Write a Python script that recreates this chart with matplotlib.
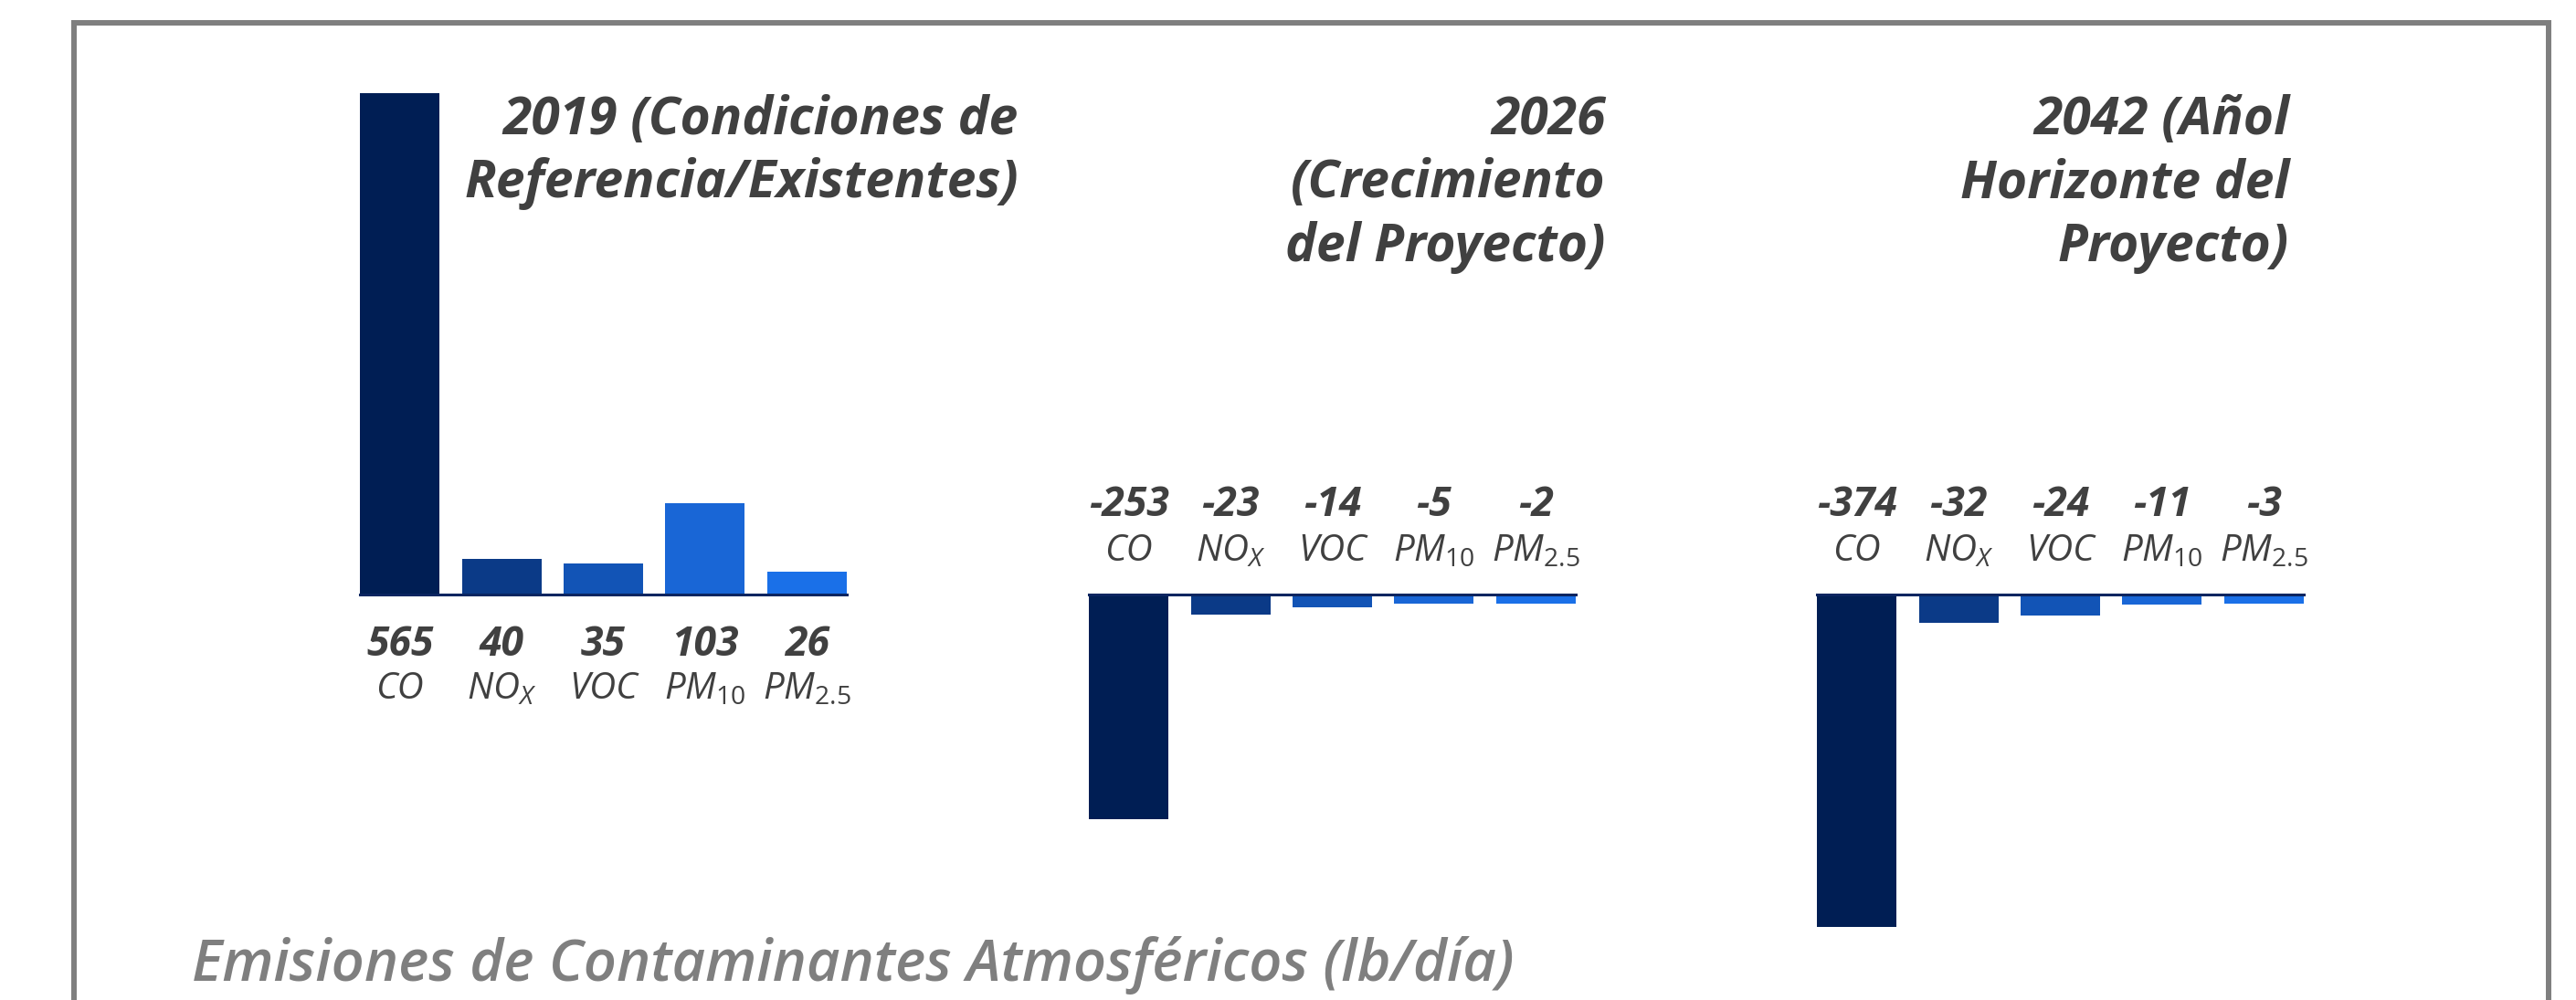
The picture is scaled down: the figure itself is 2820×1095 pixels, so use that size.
import matplotlib
matplotlib.use('Agg')
import matplotlib.pyplot as plt
from matplotlib import font_manager
from matplotlib.patches import Rectangle

# ---------------- data ----------------
pollutants = ['CO', 'NO$_X$', 'VOC', 'PM$_{10}$', 'PM$_{2.5}$']
values_2019 = [565, 40, 35, 103, 26]
values_2026 = [-253, -23, -14, -5, -2]
values_2042 = [-374, -32, -24, -11, -3]
titles = ['2019 (Condiciones de\nReferencia/Existentes)',
          '2026\n(Crecimiento\ndel Proyecto)',
          '2042 (Añol\nHorizonte del\nProyecto)']
footer = 'Emisiones de Contaminantes Atmosféricos (lb/día)'
bar_colors = ['#001E54', '#0B3A87', '#1254B6', '#1966D6', '#1A70E8']

# ---------------- fonts ----------------
available = {f.name for f in font_manager.fontManager.ttflist}
main_font = 'Open Sans' if 'Open Sans' in available else 'DejaVu Sans'
plt.rcParams['font.family'] = [main_font, 'DejaVu Sans']
plt.rcParams['mathtext.fontset'] = 'custom'
plt.rcParams['mathtext.it'] = main_font + ':italic'
plt.rcParams['mathtext.rm'] = main_font
plt.rcParams['mathtext.default'] = 'it'

TEXT = '#404040'
W, H = 2820, 1095
fig = plt.figure(figsize=(W / 100, H / 100), dpi=100)

# frame
fig.add_artist(Rectangle((81 / W, -0.2), (2790 - 81) / W, 1.2 - 25 / H,
                         transform=fig.transFigure, fill=False,
                         edgecolor='#7F7F7F', linewidth=4.3, clip_on=False))

px_per_unit = 0.972
base_px = 651
min_visible = 10  # smallest drawn bar length (style), as in the reference
ylim = (-(H - base_px) / px_per_unit, base_px / px_per_unit)
ax_lefts = [382, 1180, 1977]
ax_width = 557
title_right = [1115, 1758, 2506]

series = [values_2019, values_2026, values_2042]
for k, vals in enumerate(series):
    ax = fig.add_axes([ax_lefts[k] / W, 0, ax_width / W, 1])
    ax.set_xlim(-0.5, 4.5)
    ax.set_ylim(*ylim)
    x = range(len(vals))
    drawn = [(1 if v > 0 else -1) * max(abs(v), min_visible) for v in vals]
    ax.bar(x, drawn, width=0.78, color=bar_colors, zorder=2)
    for s in ['top', 'right', 'left']:
        ax.spines[s].set_visible(False)
    ax.spines['bottom'].set_position(('data', 0))
    ax.spines['bottom'].set_bounds(-0.39, 4.39)
    ax.spines['bottom'].set_color('#0A2560')
    ax.spines['bottom'].set_linewidth(2.2)
    ax.spines['bottom'].set_zorder(3)
    ax.set_xticks([])
    ax.set_yticks([])
    ax.patch.set_alpha(0)
    positive = vals[0] > 0
    for i, (v, name) in enumerate(zip(vals, pollutants)):
        if positive:
            voff, noff = -40, -75
        else:
            voff, noff = 70, 34
        ax.annotate(f'{v}', xy=(i, 0), xytext=(0, voff), textcoords='offset points',
                    ha='center', va='center', fontsize=32, fontweight='bold',
                    fontstyle='italic', color=TEXT)
        ax.annotate(name, xy=(i, 0), xytext=(0, noff), textcoords='offset points',
                    ha='center', va='center', fontsize=29, fontstyle='italic',
                    color=TEXT)
    fig.text(title_right[k] / W, 1 - 103 / H, titles[k], ha='right', va='top',
             multialignment='right', fontsize=41, fontweight='bold',
             fontstyle='italic', color=TEXT, linespacing=1.26)

fig.text(210 / W, 1 - 1057 / H, footer, ha='left', va='center', fontsize=45.5,
         fontweight='semibold', fontstyle='italic', color='#7F7F7F')

fig.savefig('out.png', dpi=100)
